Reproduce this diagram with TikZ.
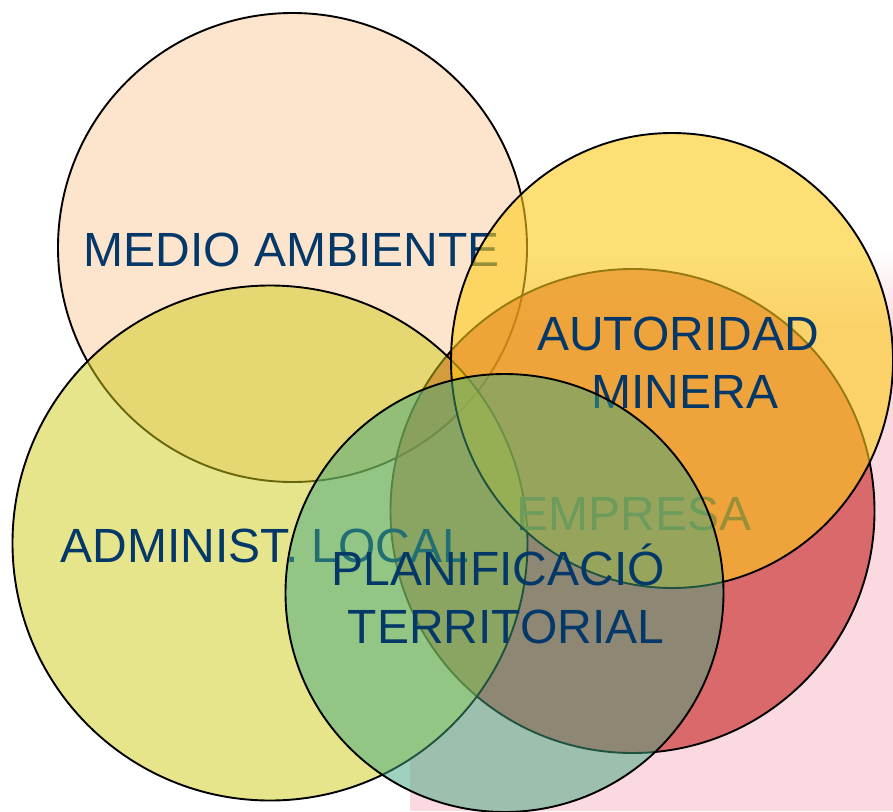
\documentclass[tikz,border=0pt]{standalone}
\usepackage{fontspec}
\setmainfont{Liberation Sans}
\definecolor{medioC}{RGB}{251,203,157}
\definecolor{redC}{RGB}{197,31,29}
\definecolor{adminC}{RGB}{207,205,25}
\definecolor{yellowC}{RGB}{252,203,27}
\definecolor{greenC}{RGB}{65,166,126}
\definecolor{navy}{RGB}{4,56,104}
\definecolor{pinkbg}{RGB}{250,218,224}
\tikzset{
  ring/.style={draw=black, line width=1.9pt},
  lbl/.style={text=navy, font=\fontsize{48}{58}\selectfont, inner sep=0pt, anchor=base}
}
\begin{document}
\begin{tikzpicture}[x=1pt,y=-1pt]
\useasboundingbox (0,0) rectangle (893,811);
% background
\fill[white] (0,0) rectangle (893,811);
\begin{scope}
  \clip (410,250) rectangle (893,811);
  \shade[top color=white, bottom color=pinkbg] (410,250) rectangle (893,330);
  \fill[pinkbg] (410,330) rectangle (893,811);
  \fill[white] (270,543) circle [radius=257.5pt];
  \fill[white] (292.5,247.5) circle [radius=234.5pt];
\end{scope}
% MEDIO AMBIENTE
\fill[medioC, fill opacity=0.5] (292.5,247.5) circle [radius=234.5pt];
\draw[ring] (292.5,247.5) circle [radius=234.5pt];
\node[lbl] (medio) at (292,266) {MEDIO AMBIENTE};
% EMPRESA circle
\fill[redC, fill opacity=0.6] (632.5,511) circle [radius=242pt];
\draw[ring] (632.5,511) circle [radius=242pt];
% ADMINIST. LOCAL
\fill[adminC, fill opacity=0.5] (270,543) circle [radius=257.5pt];
\draw[ring] (270,543) circle [radius=257.5pt];
\node[lbl] (admin) at (265,562) {ADMINIST. LOCAL};
\node[lbl] (empresa) at (634,530) {EMPRESA};
% AUTORIDAD MINERA
\fill[yellowC, fill opacity=0.6] (672,360.5) ellipse [x radius=221pt, y radius=227.5pt];
\draw[ring] (672,360.5) ellipse [x radius=221pt, y radius=227.5pt];
\node[lbl] (aut1) at (678,350) {AUTORIDAD};
\node[lbl] (aut2) at (685,408) {MINERA};
% PLANIFICACIO TERRITORIAL
\fill[greenC, fill opacity=0.5] (504.5,593) circle [radius=219pt];
\draw[ring] (504.5,593) circle [radius=219pt];
\node[lbl] (plan1) at (498,585) {PLANIFICACIÓ};
\node[lbl] (plan2) at (506,643) {TERRITORIAL};
\end{tikzpicture}
\end{document}
